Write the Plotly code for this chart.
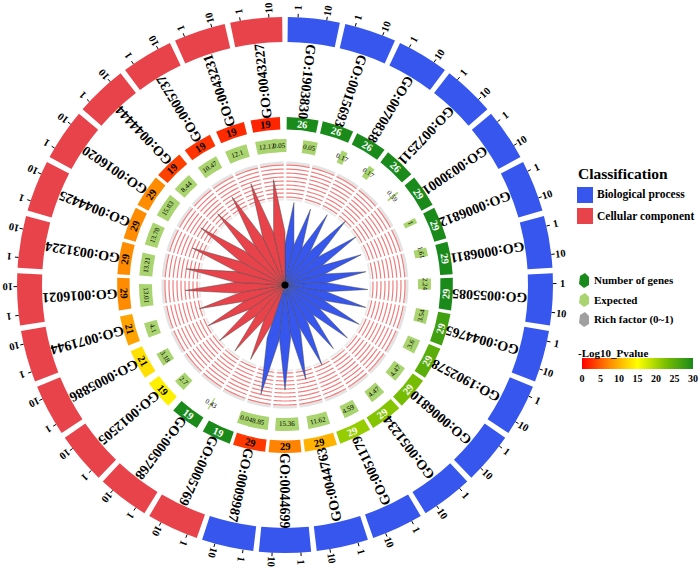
import math
import plotly.graph_objects as go

# ---------------- data ----------------
go_ids = ["GO:1903830", "GO:0015693", "GO:0070838", "GO:0072511", "GO:0030001",
          "GO:0006812", "GO:0006811", "GO:0055085", "GO:0044765", "GO:1902578",
          "GO:0006810", "GO:0051234", "GO:0051179", "GO:0044763", "GO:0044699",
          "GO:0009987",
          "GO:0005769", "GO:0005768", "GO:0012505", "GO:0005886", "GO:0071944",
          "GO:0016021", "GO:0031224", "GO:0044425", "GO:0016020", "GO:0044444",
          "GO:0005737", "GO:0043231", "GO:0043227"]
classes = ["Biological process"] * 16 + ["Cellular component"] * 13
num_genes = [26, 26, 26, 26, 29, 29, 29, 29, 29, 29, 29, 29, 29, 29, 29, 29,
             19, 19, 19, 21, 21, 29, 29, 29, 29, 19, 19, 19, 19]
expected = [0.05, 0.05, 0.17, 0.17, 0.59, 1, 1.61, 2.24, 3.54, 3.6, 4.47, 4.47,
            4.59, 11.62, 15.36, 8.85, 0.04, 0.43, 2.7, 3.18, 4.1, 13.01, 13.21,
            13.78, 15.83, 8.44, 10.47, 12.1, 12.12]
neg_log10_p = [30, 30, 30, 30, 30, 30, 30, 30, 27, 25, 23, 22, 21, 10, 7, 3,
               30, 30, 14, 13, 9, 7.5, 7.5, 7.5, 7.5, 3.5, 2.8, 2.3, 2]
petal = [83, 80, 82, 88, 86, 82, 82, 83, 84, 84, 82, 80, 88, 97, 105, 112,
         82, 83, 86, 87, 89, 100, 100, 100, 102, 98, 103, 107, 106]
class_colors = {"Biological process": "#3656EE", "Cellular component": "#E8434A"}
axis_ticks = [1, 10]
cbar_ticks = [0, 5, 10, 15, 20, 25, 30]

# ---------------- geometry ----------------
W, H = 700, 572
CX, CY, RMAX = 285, 285, 276
N = len(go_ids)
SEC = 360.0 / N
GAP = 0.6
SPAN = SEC - 2 * GAP
XMIN, XMAX = 0.44, 29.0
SERIF = "Liberation Serif"


def ang(i, x):
    lx = math.log10(x) - math.log10(XMIN)
    return i * SEC + GAP + SPAN * lx / (math.log10(XMAX) - math.log10(XMIN))


def px(r, th):
    t = math.radians(th)
    return CX + r * math.sin(t), CY - r * math.cos(t)


def P(x, y):
    return x / W, 1 - y / H


def norm(a):
    return ((a + 180) % 360) - 180


def readable(th):
    return th if (th <= 90 or th >= 270) else th - 180


fig = go.Figure()

# pink grid band
full = list(range(0, 361, 2))
fig.add_trace(go.Scatterpolar(r=[122] * len(full), theta=full, mode="lines",
                              line=dict(color="#e4e4e4", width=3), hoverinfo="skip"))
fig.add_trace(go.Scatterpolar(r=[85.5] * len(full), theta=full, mode="lines",
                              line=dict(color="#ebebeb", width=2), hoverinfo="skip"))
circ_r, circ_t = [], []
for rr in range(88, 121, 4):
    circ_r += [rr] * len(full) + [None]
    circ_t += full + [None]
fig.add_trace(go.Scatterpolar(r=circ_r, theta=circ_t, mode="lines",
                              line=dict(color="#f07c7c", width=1.2), hoverinfo="skip"))
sep_r, sep_t = [], []
for i in range(N):
    sep_r += [84, 124, None]
    sep_t += [i * SEC, i * SEC, None]
fig.add_trace(go.Scatterpolar(r=sep_r, theta=sep_t, mode="lines",
                              line=dict(color="white", width=2.5), hoverinfo="skip"))

# rose petals (kites)
for i in range(N):
    s = i * SEC
    c = s + SEC / 2
    v = petal[i]
    fig.add_trace(go.Scatterpolar(
        r=[0, 0.5 * v, v, 0.5 * v, 0], theta=[c, s, c, s + SEC, c], mode="lines",
        fill="toself", fillcolor=class_colors[classes[i]],
        line=dict(width=0.6, color="rgba(70,70,70,0.75)"), hoverinfo="skip"))
fig.add_trace(go.Scatterpolar(r=[0], theta=[0], mode="markers",
                              marker=dict(color="black", size=7), hoverinfo="skip"))

# outer classification ring
fig.add_trace(go.Barpolar(
    r=[25] * N, base=[243] * N, theta=[i * SEC + SEC / 2 for i in range(N)],
    width=[SPAN] * N, marker=dict(color=[class_colors[c] for c in classes], line=dict(width=0)),
    hoverinfo="skip"))

# gene number ring
g_theta, g_width = [], []
for i in range(N):
    a0, a1 = i * SEC + GAP, min(ang(i, num_genes[i]), i * SEC + SEC - GAP)
    g_theta.append((a0 + a1) / 2)
    g_width.append(a1 - a0)
cscale = [[0, "#FF0000"], [0.25, "#FF8C00"], [0.5, "#FFFF00"], [0.75, "#7CC000"], [1, "#1A8A1A"]]
cbx0, cbx1 = P(582, 0)[0], P(693, 0)[0]
fig.add_trace(go.Barpolar(
    r=[12.5] * N, base=[155.5] * N, theta=g_theta, width=g_width,
    marker=dict(color=neg_log10_p, colorscale=cscale, cmin=0, cmax=30, line=dict(width=0),
                showscale=True,
                colorbar=dict(orientation="h", x=(cbx0 + cbx1) / 2, xanchor="center",
                              y=P(0, 368.5)[1], yanchor="middle", len=cbx1 - cbx0,
                              lenmode="fraction",
                              thickness=11, thicknessmode="pixels", outlinewidth=0,
                              tickvals=cbar_ticks, ticks="", xpad=0, ypad=0,
                              tickfont=dict(family=SERIF, size=10, color="black", weight="bold"))),
    hoverinfo="skip"))

# expected ring
e_theta, e_width = [], []
for i in range(N):
    a0, a1 = i * SEC + GAP, ang(i, expected[i])
    lo, hi = min(a0, a1), max(a0, a1)
    if hi - lo < 0.5:
        hi = lo + 0.5
    e_theta.append((lo + hi) / 2)
    e_width.append(hi - lo)
fig.add_trace(go.Barpolar(
    r=[13] * N, base=[133] * N, theta=e_theta, width=e_width,
    marker=dict(color="#A9D46F", line=dict(width=0)), hoverinfo="skip"))

# tick marks on outer ring
tr, tt = [], []
for i in range(N):
    for v in axis_ticks:
        tr += [268, 271.5, None]
        tt += [ang(i, v), ang(i, v), None]
fig.add_trace(go.Scatterpolar(r=tr, theta=tt, mode="lines",
                              line=dict(color="black", width=1), hoverinfo="skip"))

ann = []


def add_text(x, y, text, size, angle=0, color="black", xanchor="center", bold=True):
    xx, yy = P(x, y)
    ann.append(dict(x=xx, y=yy, xref="paper", yref="paper", showarrow=False,
                    text=("<b>%s</b>" % text) if bold else text, textangle=norm(angle),
                    xanchor=xanchor, yanchor="middle", borderpad=0,
                    font=dict(family=SERIF, size=size, color=color)))


for i in range(N):
    c = i * SEC + SEC / 2
    # GO labels
    x, y = px(205, c)
    a = c + 90 if c < 179.9 else c - 90
    add_text(x, y, go_ids[i], 14, a)
    # gene counts
    x, y = px(161.5, g_theta[i])
    add_text(x, y, str(num_genes[i]), 10.5, readable(g_theta[i]),
             color="white" if neg_log10_p[i] >= 20 else "black")
    # expected labels
    x, y = px(139.5, e_theta[i])
    add_text(x, y, "%g" % expected[i], 7, readable(e_theta[i]), bold=False)
    # axis tick labels
    for v in axis_ticks:
        th = ang(i, v)
        x, y = px(277.5, th)
        add_text(x, y, str(v), 10.5, th - 90)

# legends
shapes = []


def rect(x0, y0, x1, y1, color):
    a, b = P(x0, y1)
    c, d = P(x1, y0)
    shapes.append(dict(type="rect", xref="paper", yref="paper", x0=a, y0=b, x1=c, y1=d,
                       fillcolor=color, line=dict(width=0)))


def icon(x0, y0, x1, y1, color):
    pts = [(x0 + 1, y0 + 3), (x0 + 6, y0), (x1, y0 + 4), (x1, y1 - 3), (x0 + 5, y1), (x0, y1 - 4)]
    path = "M " + " L ".join("%f,%f" % P(x, y) for x, y in pts) + " Z"
    shapes.append(dict(type="path", xref="paper", yref="paper", path=path,
                       fillcolor=color, line=dict(width=0)))


add_text(577, 173, "Classification", 15.5, xanchor="left")
rect(577, 187, 593, 203, class_colors["Biological process"])
add_text(596, 195, "Biological process", 11.5, xanchor="left")
rect(577, 208, 593, 224, class_colors["Cellular component"])
add_text(596, 216, "Cellular component", 11.5, xanchor="left")
icon(579, 273, 589, 288, "#1A8A1A")
add_text(593, 280, "Number of genes", 11, xanchor="left")
icon(579, 293, 589, 307, "#A9D46F")
add_text(593, 300, "Expected", 11, xanchor="left")
icon(579, 312, 589, 327, "#A0A0A0")
add_text(593, 319, "Rich factor (0~1)", 11, xanchor="left")
add_text(577, 353, "-Log10_Pvalue", 11, xanchor="left")

fig.update_layout(
    width=W, height=H, margin=dict(l=0, r=0, t=0, b=0, pad=0, autoexpand=False),
    paper_bgcolor="white", plot_bgcolor="white", showlegend=False,
    polar=dict(domain=dict(x=[P(CX - RMAX, 0)[0], P(CX + RMAX, 0)[0]],
                           y=[P(0, CY + RMAX)[1], P(0, CY - RMAX)[1]]),
               bgcolor="white", barmode="overlay", hole=0,
               radialaxis=dict(range=[0, RMAX], visible=False),
               angularaxis=dict(rotation=90, direction="clockwise", visible=False)),
    annotations=ann, shapes=shapes,
)
fig.write_html("out.html", config={"displayModeBar": False},
               post_script="document.body.style.margin='0';")
